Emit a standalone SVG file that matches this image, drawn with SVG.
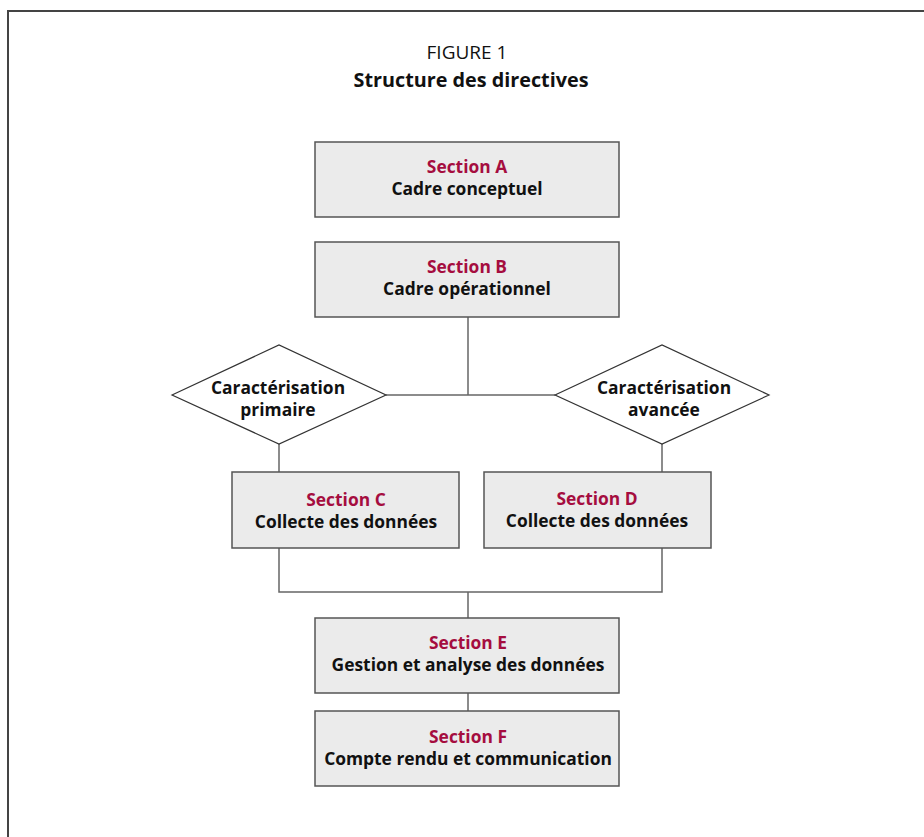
<svg xmlns="http://www.w3.org/2000/svg" width="924" height="837" viewBox="0 0 924 837">
<style>
.frame{fill:none;stroke:#444;stroke-width:2}
.box{fill:#ebebeb;stroke:#555;stroke-width:1.5}
.dia{fill:#fff;stroke:#333;stroke-width:1.2}
.con{fill:none;stroke:#666;stroke-width:1.5}
text{font-family:"Open Sans","Noto Sans","Liberation Sans",sans-serif;text-anchor:middle}
.t1{font-size:19px;fill:#111}
.t2{font-size:19.8px;font-weight:bold;fill:#111}
.sec{font-size:17.4px;font-weight:bold;fill:#a50d3f}
.lab{font-size:17.4px;font-weight:bold;fill:#111}
</style>
<rect width="924" height="837" fill="#fff"/>
<path class="frame" d="M8,845 V11 H930"/>
<text class="t1" x="467" y="59">FIGURE 1</text>
<text class="t2" x="471" y="87">Structure des directives</text>
<g id="connectors">
<path class="con" d="M468,317 V395"/>
<path class="con" d="M386,395 H555"/>
<path class="con" d="M279,444 V472"/>
<path class="con" d="M662,444 V472"/>
<path class="con" d="M279,548 V592 H662 V548"/>
<path class="con" d="M468,592 V618"/>
<path class="con" d="M468,692 V711"/>
</g>
<g id="sectionA">
<rect class="box" x="315" y="142" width="304" height="75"/>
<text class="sec" x="467" y="173">Section A</text>
<text class="lab" x="467" y="195">Cadre conceptuel</text>
</g>
<g id="sectionB">
<rect class="box" x="315" y="242" width="304" height="75"/>
<text class="sec" x="467" y="273">Section B</text>
<text class="lab" x="467" y="295">Cadre opérationnel</text>
</g>
<g id="primaire">
<polygon class="dia" points="172,395 279,345 386,395 279,444"/>
<text class="lab" x="278" y="394">Caractérisation</text>
<text class="lab" x="278" y="416">primaire</text>
</g>
<g id="avancee">
<polygon class="dia" points="555,395 662,345 769,395 662,444"/>
<text class="lab" x="664" y="394">Caractérisation</text>
<text class="lab" x="664" y="416">avancée</text>
</g>
<g id="sectionC">
<rect class="box" x="232" y="472" width="227" height="76"/>
<text class="sec" x="346" y="506">Section C</text>
<text class="lab" x="346" y="528">Collecte des données</text>
</g>
<g id="sectionD">
<rect class="box" x="484" y="472" width="227" height="76"/>
<text class="sec" x="597" y="505">Section D</text>
<text class="lab" x="597" y="527">Collecte des données</text>
</g>
<g id="sectionE">
<rect class="box" x="315" y="618" width="304" height="75"/>
<text class="sec" x="468" y="649">Section E</text>
<text class="lab" x="468" y="671">Gestion et analyse des données</text>
</g>
<g id="sectionF">
<rect class="box" x="315" y="711" width="304" height="75"/>
<text class="sec" x="468" y="743">Section F</text>
<text class="lab" x="468" y="765">Compte rendu et communication</text>
</g>
</svg>
